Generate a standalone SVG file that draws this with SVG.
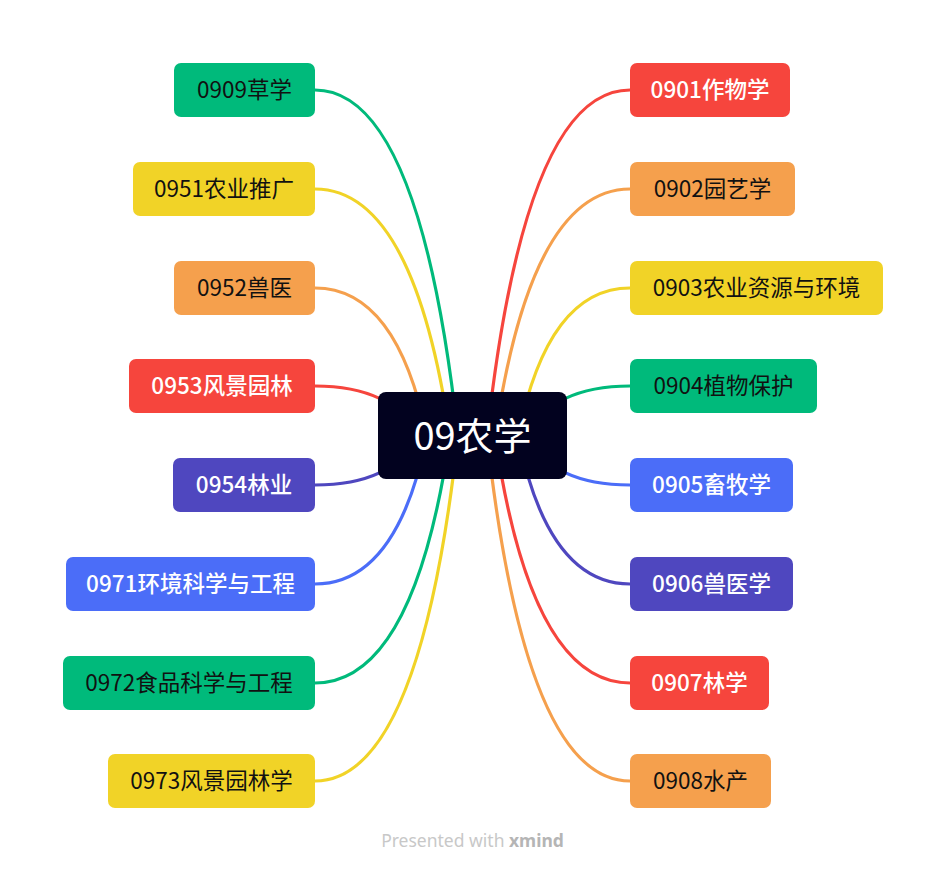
<svg xmlns="http://www.w3.org/2000/svg" width="946" height="872" viewBox="0 0 946 872">
<style>
.n{font-family:"Noto Sans CJK SC","Noto Sans",sans-serif;font-size:22.5px;text-anchor:middle}
.w{fill:#ffffff;font-weight:500}
.k{fill:#111111}
.c{fill:none;stroke-width:3.2;stroke-linecap:round}
.red{fill:#F6453D}.org{fill:#F5A04D}.yel{fill:#F1D327}.grn{fill:#00BA7B}.blu{fill:#4B6DF8}.pur{fill:#4F47BF}
.sred{stroke:#F6453D}.sorg{stroke:#F5A04D}.syel{stroke:#F1D327}.sgrn{stroke:#00BA7B}.sblu{stroke:#4B6DF8}.spur{stroke:#4F47BF}
</style>
<rect width="946" height="872" fill="#ffffff"/>
<g id="connectors">
<path class="c sgrn" d="M315 90 Q420 90 458 436"/>
<path class="c syel" d="M315 189 Q414 189 450 436"/>
<path class="c sorg" d="M315 288 Q397 288 427 436"/>
<path class="c sred" d="M315 386 Q392 386 420 436"/>
<path class="c spur" d="M315 485 Q392 485 420 436"/>
<path class="c sblu" d="M315 584 Q397 584 427 436"/>
<path class="c sgrn" d="M315 683 Q414 683 450 436"/>
<path class="c syel" d="M315 781 Q420 781 458 436"/>
<path class="c sred" d="M630 90 Q525 90 487 436"/>
<path class="c sorg" d="M630 189 Q531 189 495 436"/>
<path class="c syel" d="M630 288 Q548 288 518 436"/>
<path class="c sgrn" d="M630 386 Q553 386 525 436"/>
<path class="c sblu" d="M630 485 Q553 485 525 436"/>
<path class="c spur" d="M630 584 Q548 584 518 436"/>
<path class="c sred" d="M630 683 Q531 683 495 436"/>
<path class="c sorg" d="M630 781 Q525 781 487 436"/>
</g>
<g id="center">
<rect x="378" y="392" width="189" height="87" rx="8" fill="#02021F"/>
<text x="472.5" y="450" font-family="'Noto Sans CJK SC','Noto Sans',sans-serif" font-size="38" fill="#ffffff" text-anchor="middle">09农学</text>
</g>
<g id="n0909"><rect class="grn" x="174" y="63" width="141" height="54" rx="7"/><text class="n k" x="244.5" y="98">0909草学</text></g>
<g id="n0951"><rect class="yel" x="133" y="162" width="182" height="54" rx="7"/><text class="n k" x="224" y="197">0951农业推广</text></g>
<g id="n0952"><rect class="org" x="174" y="261" width="141" height="54" rx="7"/><text class="n k" x="244.5" y="296">0952兽医</text></g>
<g id="n0953"><rect class="red" x="129" y="359" width="186" height="54" rx="7"/><text class="n w" x="222" y="394">0953风景园林</text></g>
<g id="n0954"><rect class="pur" x="173" y="458" width="142" height="54" rx="7"/><text class="n w" x="244" y="493">0954林业</text></g>
<g id="n0971"><rect class="blu" x="66" y="557" width="249" height="54" rx="7"/><text class="n w" x="190.5" y="592">0971环境科学与工程</text></g>
<g id="n0972"><rect class="grn" x="63" y="656" width="252" height="54" rx="7"/><text class="n k" x="189" y="691">0972食品科学与工程</text></g>
<g id="n0973"><rect class="yel" x="108" y="754" width="207" height="54" rx="7"/><text class="n k" x="211.5" y="789">0973风景园林学</text></g>
<g id="n0901"><rect class="red" x="630" y="63" width="160" height="54" rx="7"/><text class="n w" x="710" y="98">0901作物学</text></g>
<g id="n0902"><rect class="org" x="630" y="162" width="165" height="54" rx="7"/><text class="n k" x="712.5" y="197">0902园艺学</text></g>
<g id="n0903"><rect class="yel" x="630" y="261" width="253" height="54" rx="7"/><text class="n k" x="756.5" y="296">0903农业资源与环境</text></g>
<g id="n0904"><rect class="grn" x="630" y="359" width="187" height="54" rx="7"/><text class="n k" x="723.5" y="394">0904植物保护</text></g>
<g id="n0905"><rect class="blu" x="630" y="458" width="163" height="54" rx="7"/><text class="n w" x="711.5" y="493">0905畜牧学</text></g>
<g id="n0906"><rect class="pur" x="630" y="557" width="163" height="54" rx="7"/><text class="n w" x="711.5" y="592">0906兽医学</text></g>
<g id="n0907"><rect class="red" x="630" y="656" width="139" height="54" rx="7"/><text class="n w" x="699.5" y="691">0907林学</text></g>
<g id="n0908"><rect class="org" x="630" y="754" width="141" height="54" rx="7"/><text class="n k" x="700.5" y="789">0908水产</text></g>
<g id="footer">
<text x="472.5" y="847" font-family="'Noto Sans','Open Sans',sans-serif" font-size="17.5" text-anchor="middle" fill="#C8C8C8">Presented with <tspan font-weight="bold" fill="#B5B5B5">xmind</tspan></text>
</g>
</svg>
